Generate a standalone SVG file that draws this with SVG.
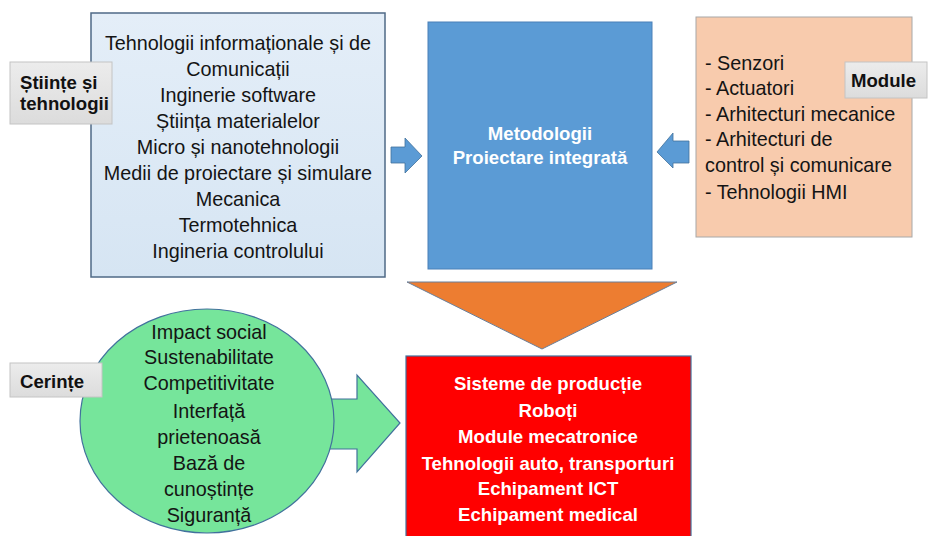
<svg xmlns="http://www.w3.org/2000/svg" width="928" height="536" viewBox="0 0 928 536">
<defs>
<linearGradient id="lbl" x1="0" y1="0" x2="0" y2="1">
<stop offset="0" stop-color="#ececec"/>
<stop offset="1" stop-color="#dcdcdc"/>
</linearGradient>
<linearGradient id="lb" x1="0" y1="0" x2="0" y2="1">
<stop offset="0" stop-color="#e4eef8"/>
<stop offset="1" stop-color="#d6e5f3"/>
</linearGradient>
</defs>
<style>
.t{font-family:"Liberation Sans",Arial,sans-serif;font-size:19.8px;fill:#141414}
.c{text-anchor:middle}
.w{font-family:"Liberation Sans",Arial,sans-serif;font-size:18.6px;font-weight:bold;fill:#ffffff;text-anchor:middle}
.l{font-family:"Liberation Sans",Arial,sans-serif;font-size:18.6px;font-weight:bold;fill:#111111}
.lblbox{fill:url(#lbl);stroke:#c4c4c4;stroke-width:1}
.ed{stroke:#41719c;stroke-width:1.2}
</style>
<rect width="928" height="536" fill="#ffffff"/>
<g id="stiinte">
<rect x="91" y="13" width="294" height="264" fill="url(#lb)" stroke="#4f6a86" stroke-width="1.5"/>
<g class="t c">
<text x="238" y="50">Tehnologii informaționale și de</text>
<text x="238" y="76">Comunicații</text>
<text x="238" y="102">Inginerie software</text>
<text x="238" y="128">Știința materialelor</text>
<text x="238" y="154">Micro și nanotehnologii</text>
<text x="238" y="180">Medii de proiectare și simulare</text>
<text x="238" y="206">Mecanica</text>
<text x="238" y="232">Termotehnica</text>
<text x="238" y="258">Ingineria controlului</text>
</g>
</g>
<g id="metodologii">
<rect x="428" y="22" width="224" height="247" fill="#5b9bd5" stroke="#4a80b8" stroke-width="1"/>
<text class="w" x="540" y="140">Metodologii</text>
<text class="w" x="540" y="164">Proiectare integrată</text>
</g>
<g id="module">
<rect x="696" y="17" width="216" height="220" fill="#f8cbad" stroke="#a8a8a8" stroke-width="1"/>
<g class="t">
<text x="705" y="70">- Senzori</text>
<text x="705" y="95">- Actuatori</text>
<text x="705" y="121">- Arhitecturi mecanice</text>
<text x="705" y="146">- Arhitecturi de</text>
<text x="705" y="172">control și comunicare</text>
<text x="705" y="199">- Tehnologii HMI</text>
</g>
</g>
<g id="triunghi">
<polygon points="407,282 677,282 542,349" fill="#ed7d31" stroke="#6a7f99" stroke-width="1"/>
</g>
<g id="rezultate">
<rect x="406" y="356" width="285" height="185" fill="#ff0000" stroke="#41719c" stroke-width="1.2"/>
<text class="w" x="548" y="390">Sisteme de producție</text>
<text class="w" x="548" y="417">Roboți</text>
<text class="w" x="548" y="443">Module mecatronice</text>
<text class="w" x="548" y="470">Tehnologii auto, transporturi</text>
<text class="w" x="548" y="495">Echipament ICT</text>
<text class="w" x="548" y="521">Echipament medical</text>
</g>
<g id="conectori">
<polygon points="391,147 405,147 405,138 422,156 405,173 405,163 391,163" fill="#5b9bd5" stroke="#41719c" stroke-width="0.8"/>
<polygon points="689,141 673,141 673,133 657,152 673,168 673,163 689,163" fill="#5b9bd5" stroke="#41719c" stroke-width="0.8"/>
<polygon points="320,399 357,399 357,375 400,423 357,472 357,449 320,449" fill="#76e59b" class="ed"/>
</g>
<g id="cerinte">
<ellipse cx="207" cy="421" rx="127" ry="112" fill="#76e59b" class="ed"/>
<g class="t c">
<text x="209" y="339">Impact social</text>
<text x="209" y="364">Sustenabilitate</text>
<text x="209" y="390">Competitivitate</text>
<text x="209" y="418">Interfață</text>
<text x="209" y="444">prietenoasă</text>
<text x="209" y="470">Bază de</text>
<text x="209" y="496">cunoștințe</text>
<text x="209" y="522">Siguranță</text>
</g>
</g>
<g id="eticheta-stiinte">
<rect x="10" y="62" width="102" height="62" class="lblbox"/>
<text class="l" x="20" y="89">Științe și</text>
<text class="l" x="20" y="110">tehnologii</text>
</g>
<g id="eticheta-module">
<rect x="845" y="62" width="82" height="36" class="lblbox"/>
<text class="l" x="851" y="87">Module</text>
</g>
<g id="eticheta-cerinte">
<rect x="10" y="363" width="92" height="34" class="lblbox"/>
<text class="l" x="20" y="388">Cerințe</text>
</g>
</svg>
